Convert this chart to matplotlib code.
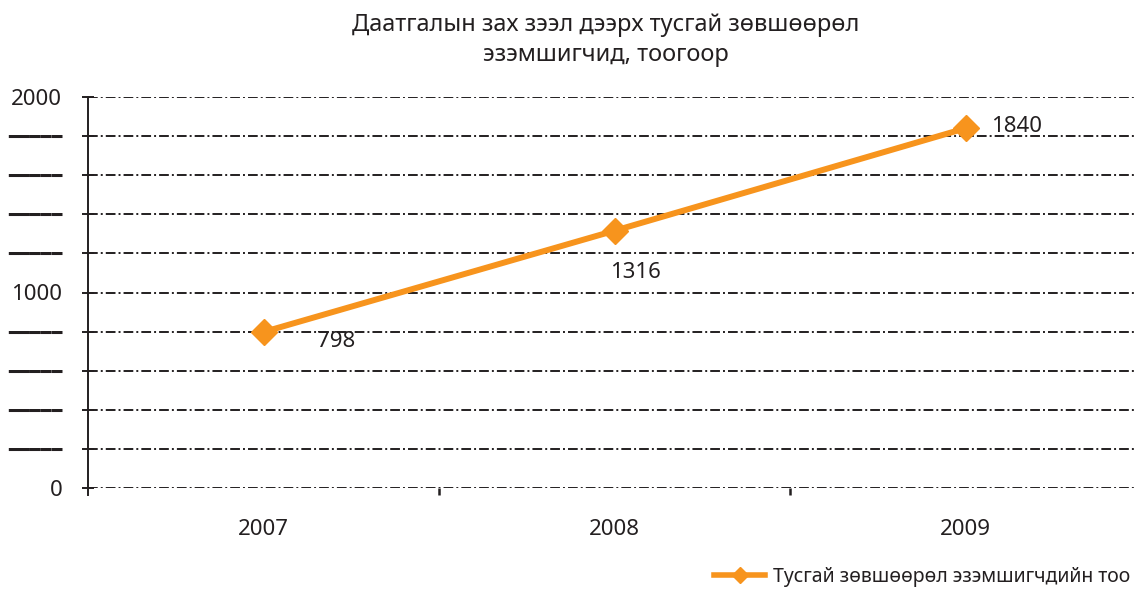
import matplotlib
matplotlib.use("Agg")
import matplotlib.pyplot as plt
from matplotlib.lines import Line2D
from matplotlib.ticker import FixedLocator

plt.rcParams['font.family'] = ['Noto Sans', 'DejaVu Sans']
plt.rcParams['lines.scale_dashes'] = False

years = ["2007", "2008", "2009"]
holders = [798, 1316, 1840]
y_ticks = list(range(0, 2001, 200))
y_named = {0: "0", 1000: "1000", 2000: "2000"}
y_labels = [y_named.get(v, "\u2501" * 5) for v in y_ticks]
title = "Даатгалын зах зээл дээрх тусгай зөвшөөрөл\nэзэмшигчид, тоогоор"
series_name = "Тусгай зөвшөөрөл эзэмшигчдийн тоо"

ORANGE = "#F7941D"
INK = "#231F20"

fig = plt.figure(figsize=(11.36, 5.9), dpi=100)
ax = fig.add_axes([88 / 1136, 102 / 590, 1053 / 1136, 391 / 590])

x = list(range(len(years)))
line, = ax.plot(x, holders, color=ORANGE, lw=4.3, marker="D", markersize=13,
                zorder=5, clip_on=False)

offsets = [(52, -7), (15, -30), (37, 1)]
for xi, v, off in zip(x, holders, offsets):
    ax.annotate(str(v), (xi, v), xytext=off, textcoords="offset points",
                ha="center", va="center", fontsize=16, color=INK)

ax.set_xlim(-0.5, 2.5)
ax.set_ylim(0, 2000)
ax.set_yticks(y_ticks)
ax.set_yticklabels(y_labels)
ax.set_xticks(x)
ax.set_xticklabels(years)
ax.xaxis.set_minor_locator(FixedLocator([0.5, 1.5]))

ax.grid(axis="y", color=INK, lw=1.4, linestyle=(0, (7, 2.2, 1.4, 2.2)))
ax.set_axisbelow(True)
for s in ["top", "right", "bottom"]:
    ax.spines[s].set_visible(False)
ax.spines["left"].set_color(INK)
ax.spines["left"].set_linewidth(1.4)
ax.spines["left"].set_bounds(-35, 2000)

ax.tick_params(axis="y", direction="inout", length=9, width=1.4, color=INK,
               labelsize=16, labelcolor=INK, pad=14)
ax.tick_params(axis="x", which="major", length=0, labelsize=16, labelcolor=INK, pad=22)
ax.tick_params(axis="x", which="minor", direction="out", length=5, width=1.8, color=INK)

# the unnamed y ticks show a heavy bar instead of a number
for lab in ax.get_yticklabels():
    if lab.get_text().startswith("\u2501"):
        lab.set_family("DejaVu Sans")
        lab.set_fontsize(13)

fig.text(0.533, 0.932, title, ha="center", va="center", fontsize=17,
         color=INK, linespacing=1.35)

handle = Line2D([], [], color=ORANGE, lw=4, marker="D", markersize=8)
fig.legend(handles=[handle], labels=[series_name], loc="lower right",
           bbox_to_anchor=(1.01, -0.025), frameon=False, fontsize=14,
           handlelength=2.6, handletextpad=0.4, labelcolor=INK)

fig.savefig("out.png", dpi=100)
